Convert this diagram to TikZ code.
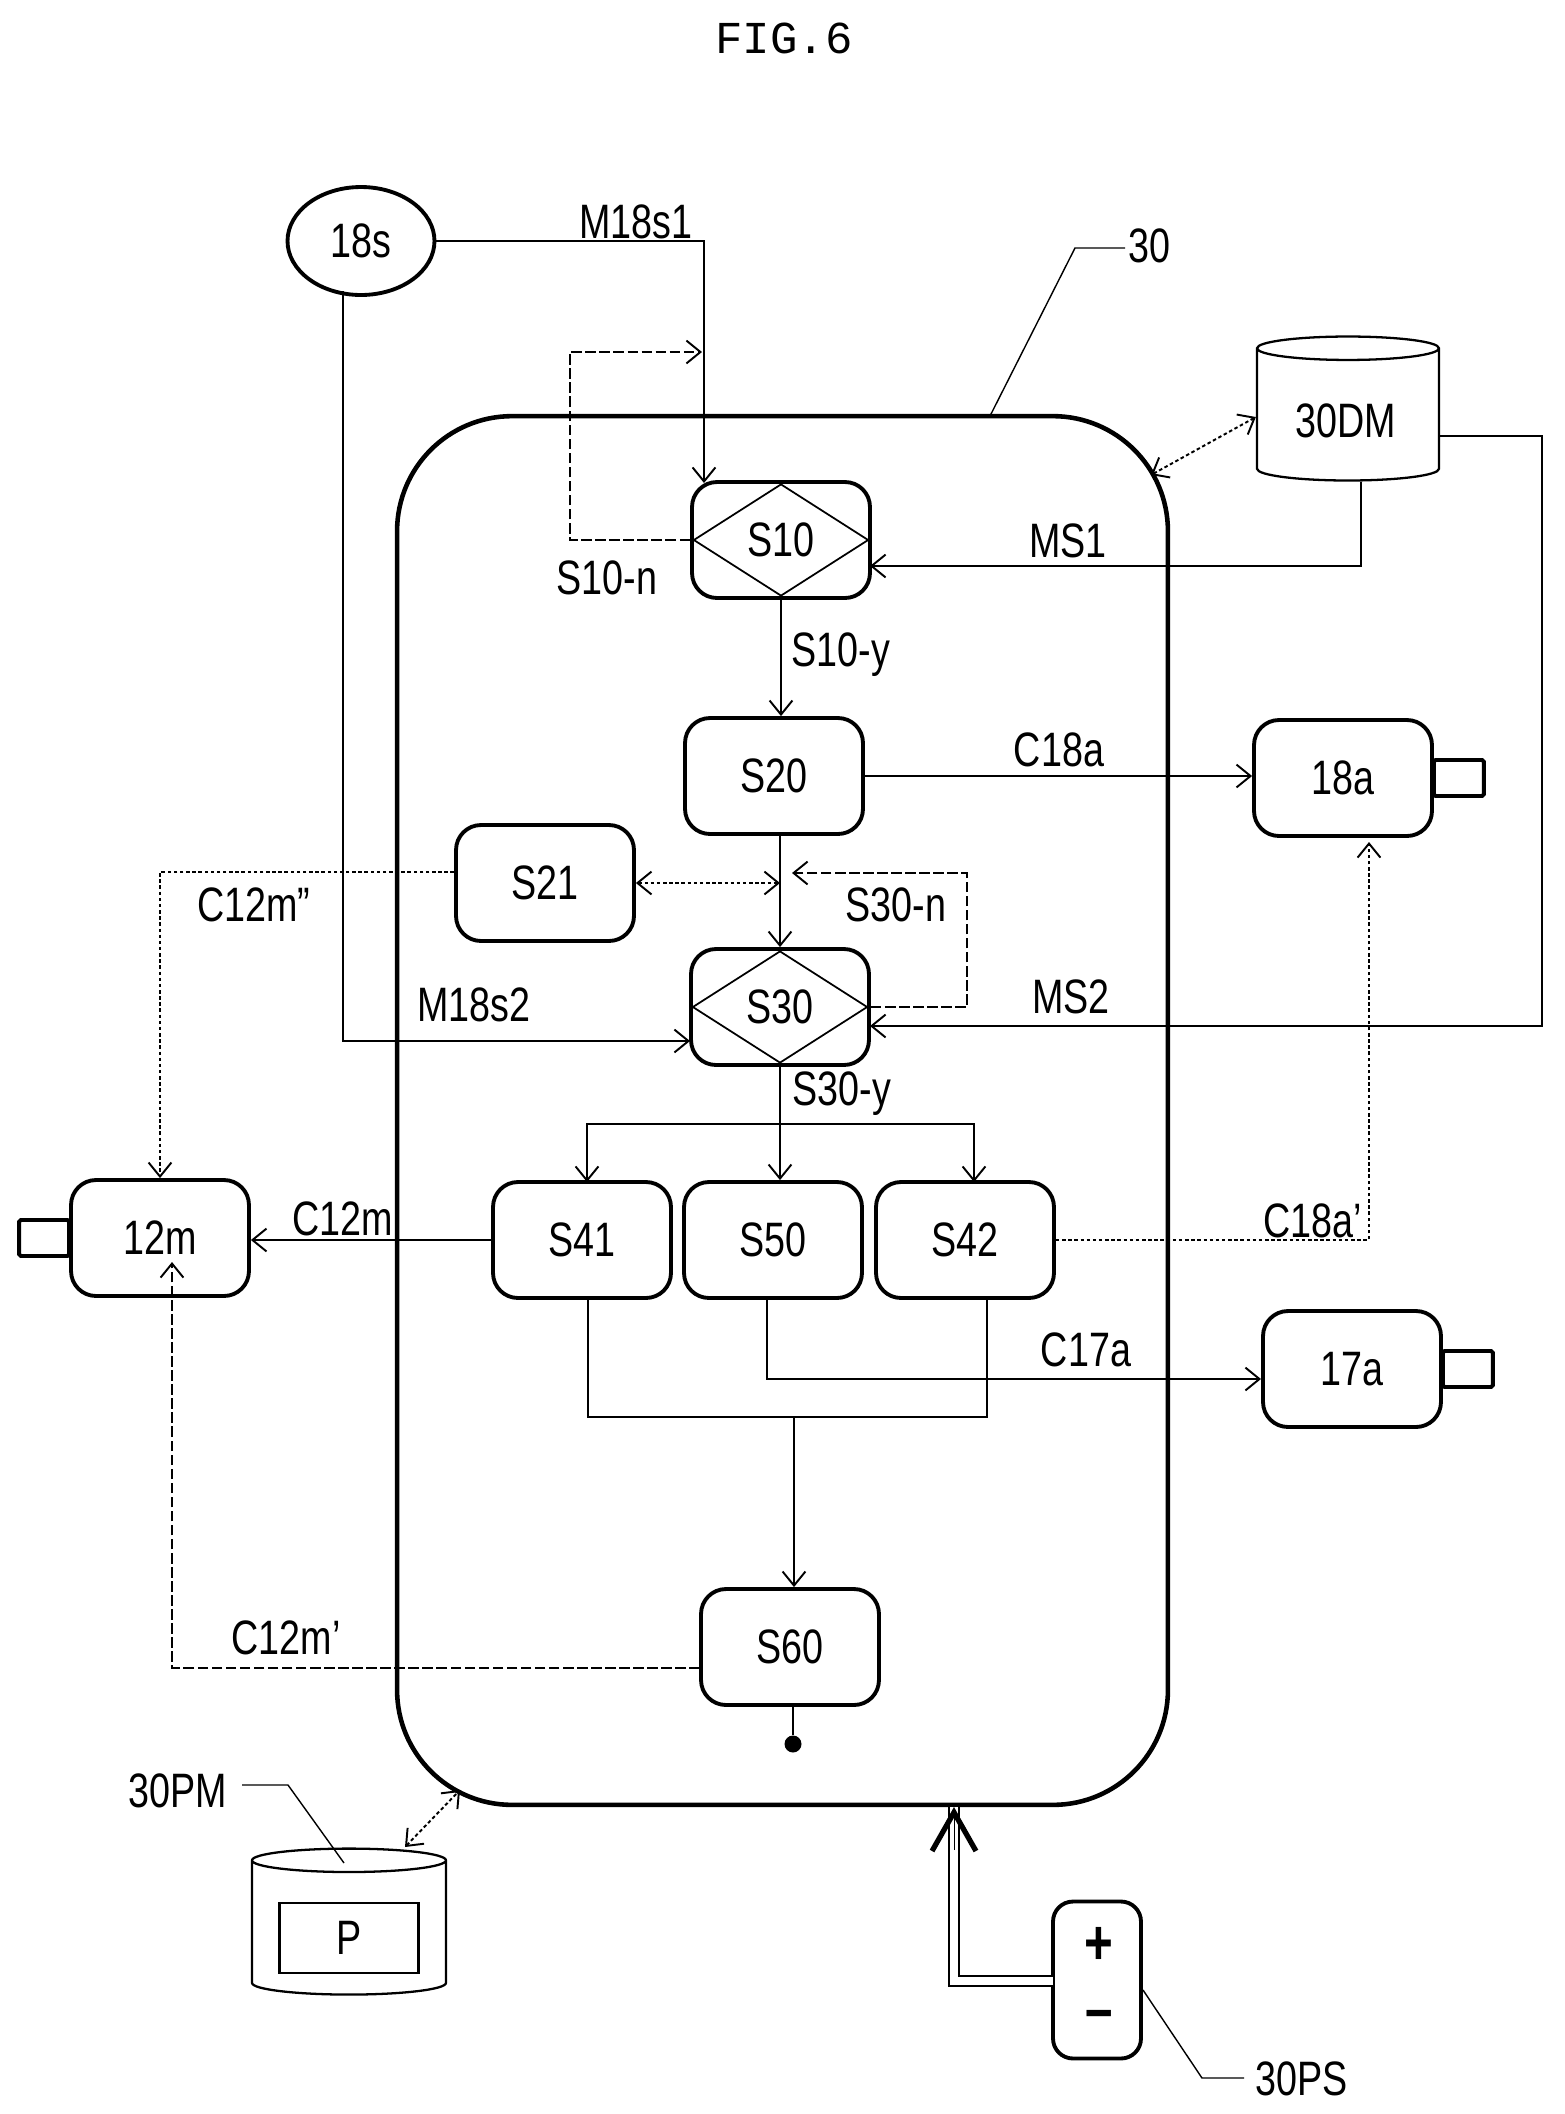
\documentclass[tikz,border=0pt]{standalone}
\usepackage{fontspec}
\usepackage{tikz}
\usetikzlibrary{arrows.meta,shapes.geometric,arrows}
\setmainfont[FakeStretch=0.78]{Liberation Sans}
\newfontfamily\titlefont{Liberation Mono}
\tikzset{
    every node/.style={font=\fontsize{27.5}{30}\selectfont},
    >={Straight Barb[length=8pt,width=13pt]},
    % Boxes
    stepbox/.style={rectangle, draw, line width=2.2pt, rounded corners=0.5cm, minimum width=3.56cm, minimum height=2.32cm},
    stub/.style={rectangle, draw, line width=2.2pt, rounded corners=1pt, outer sep=0pt, minimum width=1cm, minimum height=0.72cm},
    judge/.style={diamond, draw, line width=1pt, inner sep=0pt, minimum width=3.5cm, minimum height=2.24cm},
    store/.style={cylinder, shape border rotate=90, draw, line width=1.3pt, aspect=2},
    sign/.style={font=\fontsize{36}{36}\selectfont\bfseries},
    % Connectors
    conn/.style={line width=1.1pt},
    dashconn/.style={conn, dashed, dash pattern=on 6pt off 2pt},
    dotconn/.style={conn, dash pattern=on 2pt off 1.5pt},
    leader/.style={line width=0.8pt}
}
\begin{document}
\begin{tikzpicture}[x=0.02cm, y=-0.02cm]
    \useasboundingbox (0,0) rectangle (1565,2114);
    \node[font=\titlefont\fontsize{26}{30}\selectfont] (title) at (784,38) {FIG.6};

    % Controller outline and its reference
    \node[draw, line width=2.6pt, rounded corners=2.3cm, minimum width=15.42cm, minimum height=27.78cm] (30) at (782.5,1110.5) {};
    \node (l30) at (1149,246) {30};
    \coordinate (l30a) at (990,416);
    \coordinate (l30b) at (1075,248);
    \coordinate (l30c) at (1125,248);
    \draw[leader] (l30a) -- (l30b) -- (l30c);

    % Steps
    \node[stepbox] (S10) at (781,540) {};
    \node[judge] (S10d) at (S10.center) {S10};
    \node[stepbox] (S20) at (774,776) {S20};
    \node[stepbox] (S21) at (545,883) {S21};
    \node[stepbox] (S30) at (780,1007) {};
    \node[judge] (S30d) at (S30.center) {S30};
    \node[stepbox] (S41) at (582,1240) {S41};
    \node[stepbox] (S50) at (773,1240) {S50};
    \node[stepbox] (S42) at (965,1240) {S42};
    \node[stepbox] (S60) at (790,1647) {S60};
    \node[circle, fill=black, inner sep=0pt, minimum size=0.34cm] (end) at (793,1744) {};

    % Outside devices
    \node[draw, line width=2.2pt, ellipse, minimum width=2.94cm, minimum height=2.16cm] (18s) at (361,241) {18s};
    \node[store, minimum width=3.64cm, minimum height=2.88cm] (30DM) at (1348,417) {};
    \node (l30DM) at (1346,421) {30DM};
    \node[stepbox] (18a) at (1343,778) {18a};
    \node[stub, anchor=west] (18ac) at (18a.east) {};
    \node[stepbox] (17a) at (1352,1369) {17a};
    \node[stub, anchor=west] (17ac) at (17a.east) {};
    \node[stepbox] (12m) at (160,1238) {12m};
    \node[stub, anchor=east] (12mc) at (12m.west) {};
    \node[store, minimum width=3.88cm, minimum height=2.92cm] (30PM) at (349,1930) {};
    \node[draw, line width=1.3pt, minimum width=2.78cm, minimum height=1.4cm] (P) at (349,1938) {P};
    \node[draw, line width=2.2pt, rounded corners=0.4cm, minimum width=1.76cm, minimum height=3.14cm] (30PS) at (1097,1980) {};
    \node[sign] (plus) at (1099,1946) {+};
    \node[sign] (minus) at (1099,2020) {--};

    % Free ends
    \coordinate (S10in) at (704,483);
    \coordinate (S10ntip) at (702,352);
    \coordinate (S10r) at (870,566);
    \coordinate (dmout) at (1361,482);
    \coordinate (dmside) at (1439,436);
    \coordinate (S30r) at (870,1026);
    \coordinate (S30ntip) at (792,873);
    \coordinate (sout) at (343,291);
    \coordinate (S30l) at (690,1041);
    \coordinate (bxne) at (1151,475);
    \coordinate (bxsw) at (460,1790);
    \coordinate (pmtop) at (405,1847);
    \coordinate (S21out) at (454,872);
    \coordinate (branch) at (780,1124);
    \coordinate (S41in) at (587,1182);
    \coordinate (S42in) at (974,1182);
    \coordinate (S41out) at (588,1298);
    \coordinate (S42out) at (987,1298);
    \coordinate (S50out) at (767,1298);
    \coordinate (a17in) at (1261,1379);
    \coordinate (a18in) at (1369,842);
    \coordinate (merge) at (794,1417);
    \coordinate (S60out) at (700,1668);
    \coordinate (m12in) at (172,1262);
    \coordinate (psin) at (954,1807);
    \coordinate (pshead) at (954,1850);
    \coordinate (psout) at (1053,1981);

    % Signal lines
    \draw[conn, ->] (18s.east) -| (S10in);
    \draw[dashconn, ->] (S10.west) -- ++(-120,0) |- (S10ntip);
    \draw[conn, ->] (dmout) |- (S10r);
    \draw[conn, ->] (dmside) -- ++(103,0) |- (S30r);
    \draw[conn, ->] (sout) |- (S30l);
    \draw[dotconn, <->] (pmtop) -- (bxsw);
    \draw[dotconn, <->] (30DM.west) -- (bxne);
    \draw[conn, ->] (S10.south) -- (S10.south |- S20.north);
    \draw[conn, ->] (S20.east) -- (S20.east -| 18a.west);
    \draw[conn, ->] (S30.north |- S20.south) -- (S30.north);
    \draw[dotconn, <->] (S21.east) -- (S21.east -| S30.north);
    \draw[dashconn, ->] (S30.east) -- ++(96,0) |- (S30ntip);
    \draw[dotconn, ->] (S21out) -| (12m.north);
    \draw[conn, ->] (S30.south) -- (S30.south |- S50.north);
    \draw[conn, ->] (branch) -| (S41in);
    \draw[conn, ->] (branch) -| (S42in);
    \draw[conn, ->] (S41.west) -- (S41.west -| 12m.east);
    \draw[dotconn, ->] (S42.east) -| (a18in);
    \draw[conn, ->] (S50out) |- (a17in);
    \draw[conn] (S41out) |- (merge);
    \draw[conn] (S42out) |- (merge);
    \draw[conn, ->] (merge) -- (merge |- S60.north);
    \draw[dashconn, ->] (S60out) -| (m12in);
    \draw[conn] (S60.south -| end) -- (end);

    % Power line
    \draw[line width=1.2pt, double, double distance=4.5pt] (psout) -| (psin);
    \draw[line width=0.1pt, -{Straight Barb[length=22pt,width=25pt,line width=3pt]}] (pshead) -- (psin);

    % Labels
    \node (lM1) at (636,222) {M18s1};
    \node (lS10n) at (607,578) {S10-n};
    \node (lS10y) at (841,655) {S10-y};
    \node (lMS1) at (1068,541) {MS1};
    \node (lC18a) at (1059,750) {C18a};
    \node (lC12mb) at (254,905) {C12m''};
    \node (lS30n) at (896,905) {S30-n};
    \node (lM2) at (474,1005) {M18s2};
    \node (lMS2) at (1071,997) {MS2};
    \node (lS30y) at (842,1094) {S30-y};
    \node (lC12m) at (343,1219) {C12m};
    \node (lC18b) at (1313,1221) {C18a'};
    \node (lC17a) at (1086,1350) {C17a};
    \node (lC12ma) at (286,1638) {C12m'};

    % Storage and supply references
    \node (lPM) at (178,1791) {30PM};
    \coordinate (lPMa) at (242,1785);
    \coordinate (lPMb) at (288,1785);
    \coordinate (lPMc) at (344,1863);
    \draw[leader] (lPMa) -- (lPMb) -- (lPMc);
    \node (lPS) at (1302,2079) {30PS};
    \coordinate (lPSa) at (1143,1990);
    \coordinate (lPSb) at (1202,2078);
    \coordinate (lPSc) at (1244,2078);
    \draw[leader] (lPSa) -- (lPSb) -- (lPSc);
\end{tikzpicture}
\end{document}
